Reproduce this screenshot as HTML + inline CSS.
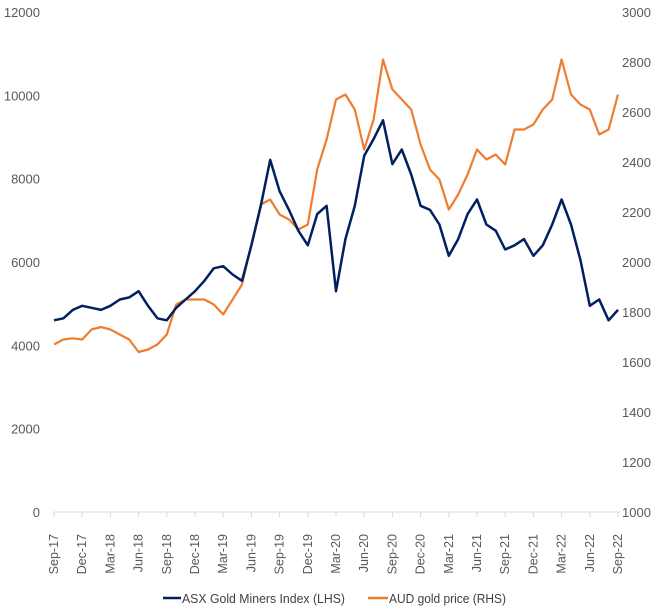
<!DOCTYPE html>
<html><head><meta charset="utf-8"><style>
body{margin:0;background:#fff;}
svg{display:block;font-family:"Liberation Sans Narrow","Liberation Sans",sans-serif;}
</style></head><body>
<svg id="chart" width="663" height="609" viewBox="0 0 663 609">
<g id="axes"></g><g id="lines"></g>
<g>
<line x1="163" y1="598" x2="181" y2="598" stroke="#002060" stroke-width="2.5"/>
<text x="182" y="603" font-size="13" fill="#404040" textLength="163" lengthAdjust="spacingAndGlyphs">ASX Gold Miners Index (LHS)</text>
<line x1="368" y1="598" x2="388" y2="598" stroke="#ED7D31" stroke-width="2.5"/>
<text x="389" y="603" font-size="13" fill="#404040" textLength="117" lengthAdjust="spacingAndGlyphs">AUD gold price (RHS)</text>
</g>
</svg>
<script>
const xLabels=["Sep-17","Dec-17","Mar-18","Jun-18","Sep-18","Dec-18","Mar-19","Jun-19","Sep-19","Dec-19","Mar-20","Jun-20","Sep-20","Dec-20","Mar-21","Jun-21","Sep-21","Dec-21","Mar-22","Jun-22","Sep-22"];
const leftTicks=[0,2000,4000,6000,8000,10000,12000];
const rightTicks=[1000,1200,1400,1600,1800,2000,2200,2400,2600,2800,3000];
const asxValues=[4600,4650,4850,4950,4900,4850,4950,5100,5150,5300,4950,4650,4600,4900,5100,5300,5550,5850,5900,5700,5550,6400,7350,8450,7700,7250,6750,6400,7150,7350,5300,6550,7350,8550,8950,9400,8350,8700,8100,7350,7250,6900,6150,6550,7150,7500,6900,6750,6300,6400,6550,6150,6400,6900,7500,6900,6050,4950,5100,4600,4850];
const audValues=[1670,1690,1695,1690,1730,1740,1730,1710,1690,1640,1650,1670,1710,1830,1850,1850,1850,1830,1790,1850,1910,2070,2230,2250,2190,2170,2130,2150,2370,2490,2650,2670,2610,2450,2570,2810,2690,2650,2610,2470,2370,2330,2210,2270,2350,2450,2410,2430,2390,2530,2530,2550,2610,2650,2810,2670,2630,2610,2510,2530,2670];
const NS="http://www.w3.org/2000/svg";
const x0=54,xStep=28.2/3,yTop=12,yBot=512;
const xM=i=>x0+i*xStep;
const yL=v=>yBot-(v/12000)*(yBot-yTop);
const yR=v=>yBot-((v-1000)/2000)*(yBot-yTop);
const axes=document.getElementById('axes'),lines=document.getElementById('lines');
function mk(tag,attrs,parent){const e=document.createElementNS(NS,tag);for(const k in attrs)e.setAttribute(k,attrs[k]);parent.appendChild(e);return e;}
const ax=mk('line',{x1:x0,y1:yBot,x2:620,y2:yBot,stroke:'#d9d9d9','stroke-width':1},axes);


xLabels.forEach((l,i)=>{
 const x=xM(i*3);
 const t=mk('line',{x1:x,y1:yBot,x2:x,y2:yBot+5,stroke:'#d9d9d9'},axes);
 
 
 const tx=mk('text',{x:0,y:0,'font-size':12.5,fill:'#595959','text-anchor':'end',transform:`translate(${x+4},${yBot+22}) rotate(-90)`,'font-family':'Liberation Sans, sans-serif'},axes);
 tx.textContent=l;
 
 
});
leftTicks.forEach(v=>{
 const t=mk('text',{x:40,y:yL(v)+5,'font-size':13,fill:'#595959','text-anchor':'end'},axes);
 t.textContent=v;
 
 
});
rightTicks.forEach(v=>{
 const t=mk('text',{x:622,y:yR(v)+5,'font-size':13,fill:'#595959'},axes);
 t.textContent=v;
 
 
});
const pa=mk('polyline',{points:audValues.map((v,i)=>xM(i).toFixed(1)+','+yR(v).toFixed(1)).join(' '),fill:'none',stroke:'#ED7D31','stroke-width':2.2,'stroke-linejoin':'round'},lines);


const pn=mk('polyline',{points:asxValues.map((v,i)=>xM(i).toFixed(1)+','+yL(v).toFixed(1)).join(' '),fill:'none',stroke:'#002060','stroke-width':2.5,'stroke-linejoin':'round'},lines);


</script>
</body></html>
